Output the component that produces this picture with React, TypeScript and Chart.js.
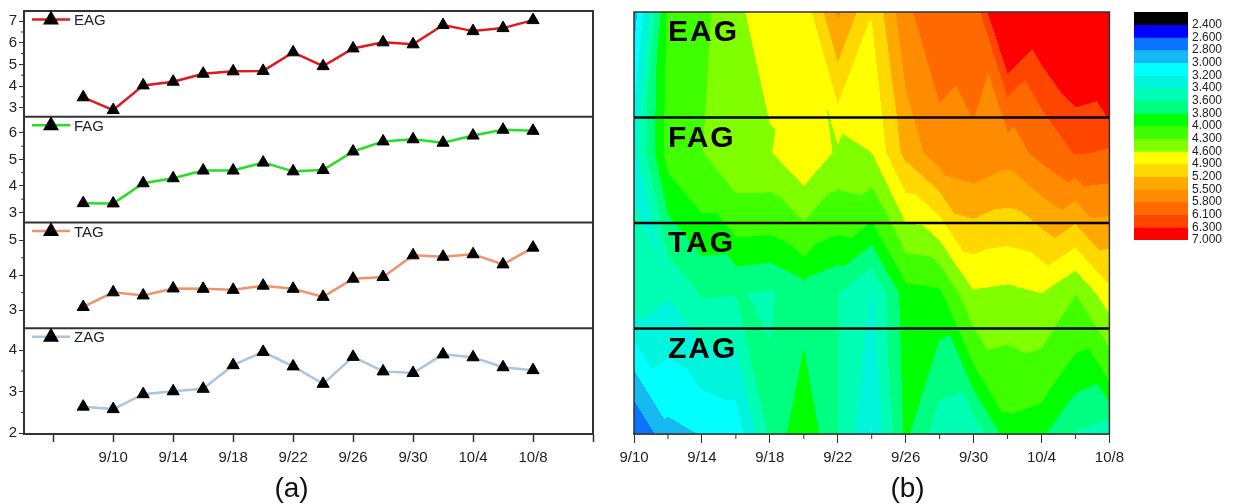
import React, { useEffect, useRef } from 'react';
import { Chart, registerables } from 'chart.js';

Chart.register(...registerables);

const FONT = "'Liberation Sans', Arial, Helvetica, sans-serif";
Chart.defaults.font.family = FONT;

// ---------- data ----------
const dates = ['9/8', '9/10', '9/12', '9/14', '9/16', '9/18', '9/20', '9/22', '9/24', '9/26', '9/28', '9/30', '10/2', '10/4', '10/6', '10/8'];
const EAG = [3.48, 2.89, 4.03, 4.2, 4.57, 4.68, 4.7, 5.56, 4.92, 5.74, 6.02, 5.93, 6.82, 6.54, 6.68, 7.05];
const FAG = [3.35, 3.34, 4.1, 4.29, 4.58, 4.58, 4.88, 4.55, 4.6, 5.3, 5.68, 5.76, 5.63, 5.9, 6.12, 6.08];
const TAG = [3.09, 3.51, 3.42, 3.62, 3.61, 3.58, 3.7, 3.61, 3.38, 3.9, 3.95, 4.57, 4.53, 4.6, 4.31, 4.79];
const ZAG = [2.64, 2.58, 2.94, 3.01, 3.07, 3.64, 3.96, 3.61, 3.19, 3.84, 3.49, 3.45, 3.9, 3.83, 3.59, 3.52];

const seriesNames = ['EAG', 'FAG', 'TAG', 'ZAG'];
const seriesColors = ['#E3171C', '#22E022', '#F0936C', '#A8C6DF'];

const yTicksEAG = [3, 4, 5, 6, 7];
const yTicksFAG = [3, 4, 5, 6];
const yTicksTAG = [3, 4, 5];
const yTicksZAG = [2, 3, 4];
const yMinorEAG = [3.5, 4.5, 5.5, 6.5];
const yMinorFAG = [3.5, 4.5, 5.5];
const yMinorTAG = [3.5, 4.5];
const yMinorZAG = [2.5, 3.5];
const yRangeEAG = [2.58, 7.47];
const yRangeFAG = [2.62, 6.61];
const yRangeTAG = [2.48, 5.51];
const yRangeZAG = [1.98, 4.53];

const leftTickDates = ['9/6', '9/10', '9/14', '9/18', '9/22', '9/26', '9/30', '10/4', '10/8', '10/12'];
const leftTickLabels = ['', '9/10', '9/14', '9/18', '9/22', '9/26', '9/30', '10/4', '10/8', ''];
const leftRange = ['9/4', '10/12'];

const contourTickDates = ['9/10', '9/14', '9/18', '9/22', '9/26', '9/30', '10/4', '10/8'];
const contourMinorDates = ['9/12', '9/16', '9/20', '9/24', '9/28', '10/2', '10/6'];

const levelValues = [2.4, 2.6, 2.8, 3.0, 3.2, 3.4, 3.6, 3.8, 4.0, 4.3, 4.6, 4.9, 5.2, 5.5, 5.8, 6.1, 6.3, 7.0];
const levelLabels = ['2.400', '2.600', '2.800', '3.000', '3.200', '3.400', '3.600', '3.800', '4.000', '4.300', '4.600', '4.900', '5.200', '5.500', '5.800', '6.100', '6.300', '7.000'];
const levelColors = ['#000000', '#0000FF', '#0A74FF', '#17B9F2', '#00FFFF', '#00F5DC', '#00FFB4', '#00FF80', '#00FF00', '#40FF00', '#80FF00', '#FFFF00', '#FFD800', '#FFA800', '#FF8C00', '#FF6A00', '#FF4500', '#FF0000'];

// ---------- helpers ----------
function dayOf(s: string): number {
  const [m, d] = s.split('/').map(Number);
  return m === 9 ? d : 30 + d;
}
const days = dates.map(dayOf);

const panels = [
  { name: 'EAG', values: EAG, color: seriesColors[0], range: yRangeEAG, ticks: yTicksEAG, minor: yMinorEAG },
  { name: 'FAG', values: FAG, color: seriesColors[1], range: yRangeFAG, ticks: yTicksFAG, minor: yMinorFAG },
  { name: 'TAG', values: TAG, color: seriesColors[2], range: yRangeTAG, ticks: yTicksTAG, minor: yMinorTAG },
  { name: 'ZAG', values: ZAG, color: seriesColors[3], range: yRangeZAG, ticks: yTicksZAG, minor: yMinorZAG },
];

const AXIS = '#333';
const TXT = '#222';

function hexToRgb(h: string) {
  const n = parseInt(h.slice(1), 16);
  return [(n >> 16) & 255, (n >> 8) & 255, n & 255];
}

// ---------- left chart ----------
const leftPlugin = {
  id: 'leftDecor',
  afterDraw(chart: any) {
    const { ctx, chartArea } = chart;
    const { left, right, top, bottom } = chartArea;
    ctx.save();
    ctx.strokeStyle = AXIS;
    ctx.lineWidth = 2;
    ctx.strokeRect(left, top, right - left, bottom - top);
    panels.forEach((p, i) => {
      const s = chart.scales['y' + p.name];
      if (i > 0) {
        ctx.beginPath();
        ctx.moveTo(left, s.top);
        ctx.lineTo(right, s.top);
        ctx.stroke();
      }
      ctx.lineWidth = 1;
      p.minor.forEach((v) => {
        const y = s.getPixelForValue(v);
        ctx.beginPath();
        ctx.moveTo(left - 3, y);
        ctx.lineTo(left, y);
        ctx.stroke();
      });
      // legend
      const y0 = s.top + 8.5;
      ctx.strokeStyle = p.color;
      ctx.lineWidth = 2.5;
      ctx.beginPath();
      ctx.moveTo(left + 8, y0);
      ctx.lineTo(left + 46, y0);
      ctx.stroke();
      const cx = left + 27;
      ctx.fillStyle = '#000';
      ctx.beginPath();
      ctx.moveTo(cx, y0 - 9);
      ctx.lineTo(cx - 8, y0 + 5);
      ctx.lineTo(cx + 8, y0 + 5);
      ctx.closePath();
      ctx.fill();
      ctx.fillStyle = TXT;
      ctx.font = `15px ${FONT}`;
      ctx.textAlign = 'left';
      ctx.textBaseline = 'alphabetic';
      ctx.fillText(p.name, left + 50, y0 + 5.5);
      ctx.strokeStyle = AXIS;
      ctx.lineWidth = 2;
    });
    ctx.fillStyle = '#111';
    ctx.font = `28px ${FONT}`;
    ctx.textAlign = 'center';
    ctx.fillText('(a)', (left + right) / 2 - 17, 497);
    ctx.restore();
  },
};

function leftConfig(): any {
  const scales: any = {
    x: {
      type: 'linear',
      position: 'bottom',
      min: dayOf(leftRange[0]) + 0.05,
      max: dayOf(leftRange[1]),
      afterBuildTicks: (s: any) => {
        s.ticks = leftTickDates.map((d) => ({ value: dayOf(d) }));
      },
      afterFit: (s: any) => {
        s.height = 70;
      },
      ticks: {
        autoSkip: false,
        maxRotation: 0,
        padding: 7,
        color: TXT,
        font: { size: 15 },
        callback: (v: number) => {
          const i = leftTickDates.findIndex((d) => dayOf(d) === v);
          return i >= 0 ? leftTickLabels[i] : '';
        },
      },
      grid: { drawOnChartArea: false, drawTicks: true, tickLength: 8, color: AXIS, tickWidth: 1.5 },
      border: { display: true, color: AXIS, width: 2 },
    },
  };
  [...panels].reverse().forEach((p) => {
    scales['y' + p.name] = {
      type: 'linear',
      position: 'left',
      stack: 'panels',
      stackWeight: 1,
      min: p.range[0],
      max: p.range[1],
      afterBuildTicks: (s: any) => {
        s.ticks = p.ticks.map((v) => ({ value: v }));
      },
      afterFit: (s: any) => {
        s.width = 24;
      },
      ticks: { autoSkip: false, padding: 2, color: TXT, font: { size: 15 }, callback: (v: number) => String(v) },
      grid: { drawOnChartArea: false, drawTicks: true, tickLength: 5, color: AXIS, tickWidth: 1 },
      border: { display: true, color: AXIS, width: 2 },
    };
  });
  return {
    type: 'line',
    data: {
      datasets: panels.map((p) => ({
        label: p.name,
        data: p.values.map((v, i) => ({ x: days[i], y: v })),
        yAxisID: 'y' + p.name,
        borderColor: p.color,
        borderWidth: 2.5,
        pointStyle: 'triangle',
        pointRadius: 7,
        pointBackgroundColor: '#000',
        pointBorderColor: '#000',
        pointBorderWidth: 1,
        tension: 0,
        fill: false,
      })),
    },
    options: {
      animation: false,
      responsive: false,
      events: [],
      layout: { padding: { left: 0, top: 11, right: 17, bottom: 0 } },
      plugins: { legend: { display: false }, tooltip: { enabled: false } },
      scales,
    },
    plugins: [leftPlugin],
  };
}

// ---------- contour chart ----------
const contourPlugin = {
  id: 'contour',
  beforeDatasetsDraw(chart: any) {
    const { ctx, chartArea } = chart;
    const xs = chart.scales.x;
    const ys = chart.scales.y;
    const ds = chart.data.datasets;
    const cols: number[] = ds[0].data.map((p: any) => p.x);
    const rows: number[] = ds.map((d: any) => d.data[0].y);
    const grid: number[][] = ds.map((d: any) => d.data.map((p: any) => p.v));
    const rgb = levelColors.map(hexToRgb);
    const L = Math.round(chartArea.left);
    const T = Math.round(chartArea.top);
    const W = Math.round(chartArea.right) - L;
    const H = Math.round(chartArea.bottom) - T;
    const img = ctx.createImageData(W, H);
    const band = (z: number) => {
      let k = 0;
      while (k < levelValues.length && z >= levelValues[k]) k++;
      return Math.min(k, levelColors.length - 1);
    };
    for (let py = 0; py < H; py++) {
      let yv = ys.getValueForPixel(T + py + 0.5);
      yv = Math.max(rows[0], Math.min(rows[rows.length - 1], yv));
      let j = 0;
      while (j < rows.length - 2 && yv > rows[j + 1]) j++;
      const v = (yv - rows[j]) / (rows[j + 1] - rows[j]);
      for (let px = 0; px < W; px++) {
        let xv = xs.getValueForPixel(L + px + 0.5);
        xv = Math.max(cols[0], Math.min(cols[cols.length - 1], xv));
        let i = 0;
        while (i < cols.length - 2 && xv > cols[i + 1]) i++;
        const u = (xv - cols[i]) / (cols[i + 1] - cols[i]);
        const z00 = grid[j][i];
        const z10 = grid[j][i + 1];
        const z01 = grid[j + 1][i];
        const z11 = grid[j + 1][i + 1];
        let z: number;
        if (Math.abs(z00 - z11) <= Math.abs(z10 - z01)) {
          if (u >= v) z = z00 + (z10 - z00) * u + (z11 - z10) * v;
          else z = z00 + (z01 - z00) * v + (z11 - z01) * u;
        } else {
          if (u + v <= 1) z = z00 + (z10 - z00) * u + (z01 - z00) * v;
          else z = z11 + (z01 - z11) * (1 - u) + (z10 - z11) * (1 - v);
        }
        const c = rgb[band(z)];
        const o = (py * W + px) * 4;
        img.data[o] = c[0];
        img.data[o + 1] = c[1];
        img.data[o + 2] = c[2];
        img.data[o + 3] = 255;
      }
    }
    ctx.putImageData(img, L, T);
  },
  afterDraw(chart: any) {
    const { ctx, chartArea } = chart;
    const { left, right, top, bottom } = chartArea;
    const h = bottom - top;
    ctx.save();
    ctx.strokeStyle = '#000';
    ctx.lineWidth = 2.5;
    for (let k = 1; k < 4; k++) {
      const y = top + (h * k) / 4;
      ctx.beginPath();
      ctx.moveTo(left, y);
      ctx.lineTo(right, y);
      ctx.stroke();
    }
    ctx.strokeStyle = AXIS;
    ctx.lineWidth = 1.5;
    ctx.strokeRect(left, top, right - left, h);
    const xs = chart.scales.x;
    ctx.lineWidth = 1;
    contourMinorDates.forEach((d) => {
      const x = xs.getPixelForValue(dayOf(d));
      ctx.beginPath();
      ctx.moveTo(x, bottom);
      ctx.lineTo(x, bottom + 5);
      ctx.stroke();
    });
    ctx.fillStyle = '#000';
    ctx.font = `bold 30px ${FONT}`;
    ctx.textAlign = 'left';
    ctx.textBaseline = 'alphabetic';
    try {
      (ctx as any).letterSpacing = '2px';
    } catch (e) {}
    seriesNames.forEach((n, k) => {
      ctx.fillText(n, left + 34, top + (h * k) / 4 + 29);
    });
    try {
      (ctx as any).letterSpacing = '0px';
    } catch (e) {}
    ctx.fillStyle = '#111';
    ctx.font = `28px ${FONT}`;
    ctx.textAlign = 'center';
    ctx.fillText('(b)', left + 273.5, 497);
    ctx.restore();
  },
};

function contourConfig(): any {
  const series = [EAG, FAG, TAG, ZAG];
  return {
    type: 'scatter',
    data: {
      datasets: series.map((vals, r) => ({
        label: seriesNames[r],
        data: vals.slice(1).map((v, i) => ({ x: days[i + 1], y: r + 1, v })),
        pointRadius: 0,
        showLine: false,
      })),
    },
    options: {
      animation: false,
      responsive: false,
      events: [],
      layout: { padding: { left: 34, top: 12, right: 20, bottom: 0 } },
      plugins: { legend: { display: false }, tooltip: { enabled: false } },
      scales: {
        x: {
          type: 'linear',
          min: dayOf(contourTickDates[0]),
          max: dayOf(contourTickDates[contourTickDates.length - 1]),
          afterBuildTicks: (s: any) => {
            s.ticks = contourTickDates.map((d) => ({ value: dayOf(d) }));
          },
          afterFit: (s: any) => {
            s.height = 70;
          },
          ticks: {
            autoSkip: false,
            maxRotation: 0,
            padding: 6,
            color: TXT,
            font: { size: 15 },
            callback: (v: number) => {
              const i = contourTickDates.findIndex((d) => dayOf(d) === v);
              return i >= 0 ? contourTickDates[i] : '';
            },
          },
          grid: { drawOnChartArea: false, drawTicks: true, tickLength: 9, color: AXIS, tickWidth: 1 },
          border: { display: true, color: AXIS, width: 1.5 },
        },
        y: { type: 'linear', min: 1, max: 4, reverse: true, display: false },
      },
    },
    plugins: [contourPlugin],
  };
}

// ---------- color scale ----------
function scaleConfig(): any {
  return {
    type: 'bar',
    data: {
      labels: [''],
      datasets: levelColors.map((c, i) => ({
        label: i === 0 ? '<' + levelLabels[0] : levelLabels[i - 1] + '-' + levelLabels[i],
        data: [1],
        backgroundColor: c,
        borderWidth: 0,
        barPercentage: 1,
        categoryPercentage: 1,
        stack: 'levels',
      })),
    },
    options: {
      animation: false,
      responsive: false,
      events: [],
      layout: { padding: { left: 14, top: 12, right: 0, bottom: 20 } },
      plugins: { legend: { display: false }, tooltip: { enabled: false } },
      scales: {
        x: { stacked: true, display: false },
        y: {
          stacked: true,
          min: 0,
          max: levelColors.length,
          reverse: true,
          position: 'right',
          afterBuildTicks: (s: any) => {
            s.ticks = levelLabels.map((_, i) => ({ value: i + 1 }));
          },
          afterFit: (s: any) => {
            s.width = 46;
          },
          ticks: {
            autoSkip: false,
            padding: 4,
            color: TXT,
            font: { size: 12 },
            callback: (v: number) => levelLabels[v - 1],
          },
          grid: { display: false, drawTicks: false },
          border: { display: false },
        },
      },
    },
  };
}

export default function App() {
  const leftRef = useRef<HTMLCanvasElement>(null);
  const rightRef = useRef<HTMLCanvasElement>(null);
  const scaleRef = useRef<HTMLCanvasElement>(null);

  useEffect(() => {
    const c1 = new Chart(leftRef.current as HTMLCanvasElement, leftConfig());
    const c2 = new Chart(rightRef.current as HTMLCanvasElement, contourConfig());
    const c3 = new Chart(scaleRef.current as HTMLCanvasElement, scaleConfig());
    return () => {
      c1.destroy();
      c2.destroy();
      c3.destroy();
    };
  }, []);

  return (
    <div style={{ position: 'absolute', left: 0, top: 0, width: 1234, height: 504, background: '#fff', overflow: 'hidden' }}>
      <canvas ref={leftRef} width={610} height={504} style={{ position: 'absolute', left: 0, top: 0 }} />
      <canvas ref={rightRef} width={530} height={504} style={{ position: 'absolute', left: 600, top: 0 }} />
      <canvas ref={scaleRef} width={114} height={260} style={{ position: 'absolute', left: 1120, top: 0 }} />
    </div>
  );
}
